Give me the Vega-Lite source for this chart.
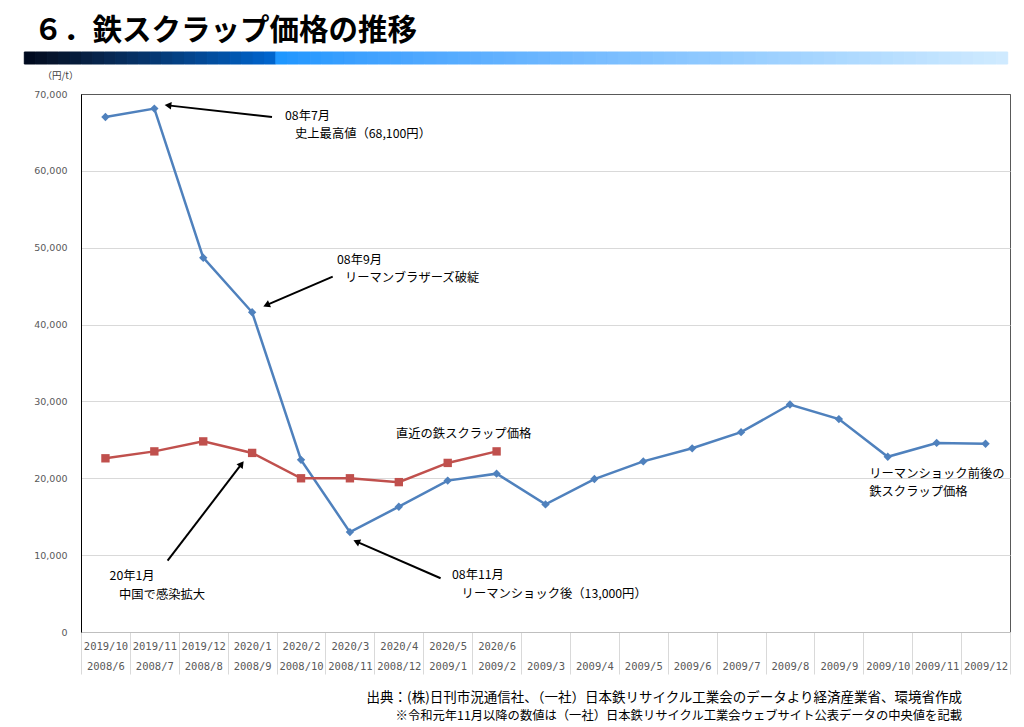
{
  "$schema": "https://vega.github.io/schema/vega-lite/v6.json",
  "background": "white",
  "padding": {"left": 23, "top": 16, "right": 0, "bottom": 0},
  "spacing": 4,
  "config": {
    "font": "Noto Sans CJK JP",
    "view": {"stroke": null}
  },
  "title": {
    "text": "６．鉄スクラップ価格の推移",
    "anchor": "start",
    "font": "Noto Sans CJK JP",
    "fontSize": 29.5,
    "fontWeight": "bold",
    "color": "#000000",
    "dx": 10,
    "offset": 5
  },
  "vconcat": [
    {
      "width": 929,
      "height": 12,
      "data": {
        "values": [0, 1, 2, 3, 4, 5, 6, 7, 8, 9, 10, 11, 12, 13, 14, 15, 16, 17, 18, 19, 20, 21,
                   22, 23, 24, 25, 26, 27, 28, 29, 30, 31, 32, 33, 34, 35, 36, 37, 38, 39, 40, 41, 42, 43,
                   44, 45, 46, 47, 48, 49, 50, 51, 52, 53, 54, 55, 56, 57, 58, 59, 60, 61, 62, 63, 64,
                   65, 66, 67, 68, 69, 70, 71, 72, 73, 74, 75, 76, 77, 78, 79, 80, 81, 82, 83, 84, 85]
      },
      "mark": {"type": "rect", "strokeWidth": 1, "clip": false},
      "encoding": {
        "x": {
          "field": "data",
          "type": "ordinal",
          "sort": null,
          "scale": {"type": "band", "paddingInner": 0, "paddingOuter": 0, "range": [-56.7, 926.7]},
          "axis": null
        },
        "color": {
          "field": "data",
          "type": "quantitative",
          "scale": {"domain": [0, 21, 22, 85], "range": ["#000a1f", "#0064cc", "#1f97ff", "#cfeaff"]},
          "legend": null
        },
        "stroke": {
          "field": "data",
          "type": "quantitative",
          "scale": {"domain": [0, 21, 22, 85], "range": ["#000a1f", "#0064cc", "#1f97ff", "#cfeaff"]},
          "legend": null
        }
      }
    },
    {
      "width": 929,
      "height": 538,
      "view": {"stroke": "#595959"},
      "title": {
        "text": "出典：(株)日刊市況通信社、（一社）日本鉄リサイクル工業会のデータより経済産業省、環境省作成",
        "subtitle": "※令和元年11月以降の数値は（一社）日本鉄リサイクル工業会ウェブサイト公表データの中央値を記載",
        "orient": "bottom",
        "anchor": "end",
        "frame": "group",
        "dx": -48,
        "offset": 16,
        "font": "Noto Sans CJK JP",
        "fontSize": 13.5,
        "fontWeight": "normal",
        "color": "#000000",
        "subtitleFont": "Noto Sans CJK JP",
        "subtitleFontSize": 12.3,
        "subtitleColor": "#000000",
        "subtitlePadding": 6
      },
      "encoding": {
        "y": {
          "field": "price",
          "type": "quantitative",
          "scale": {"domain": [0, 70000], "nice": false, "zero": true},
          "axis": {
            "values": [0, 10000, 20000, 30000, 40000, 50000, 60000, 70000],
            "format": ",.0f",
            "grid": true,
            "gridColor": {"condition": {"test": "datum.value == 70000", "value": "#595959"}, "value": "#d9d9d9"},
            "ticks": false,
            "domain": true,
            "domainColor": "#000000",
            "labelPadding": 14,
            "labelFont": "DejaVu Sans",
            "labelFontSize": 9.5,
            "labelColor": "#595959",
            "minExtent": 57,
            "title": "（円/t）",
            "titleAngle": 0,
            "titleX": -21,
            "titleY": -19,
            "titleAlign": "center",
            "titleBaseline": "middle",
            "titleFont": "Noto Sans CJK JP",
            "titleFontSize": 9.5,
            "titleFontWeight": "normal",
            "titleColor": "#404040"
          }
        }
      },
      "layer": [
        {
          "data": {
            "values": [
              {"month_2008": "2008/6", "month_2019": "2019/10", "lehman_shock": 67000, "recent": 22600},
              {"month_2008": "2008/7", "month_2019": "2019/11", "lehman_shock": 68100, "recent": 23500},
              {"month_2008": "2008/8", "month_2019": "2019/12", "lehman_shock": 48700, "recent": 24800},
              {"month_2008": "2008/9", "month_2019": "2020/1", "lehman_shock": 41600, "recent": 23300},
              {"month_2008": "2008/10", "month_2019": "2020/2", "lehman_shock": 22400, "recent": 20000},
              {"month_2008": "2008/11", "month_2019": "2020/3", "lehman_shock": 13000, "recent": 20000},
              {"month_2008": "2008/12", "month_2019": "2020/4", "lehman_shock": 16300, "recent": 19500},
              {"month_2008": "2009/1", "month_2019": "2020/5", "lehman_shock": 19700, "recent": 22000},
              {"month_2008": "2009/2", "month_2019": "2020/6", "lehman_shock": 20600, "recent": 23500},
              {"month_2008": "2009/3", "month_2019": "", "lehman_shock": 16600, "recent": null},
              {"month_2008": "2009/4", "month_2019": "", "lehman_shock": 19900, "recent": null},
              {"month_2008": "2009/5", "month_2019": "", "lehman_shock": 22200, "recent": null},
              {"month_2008": "2009/6", "month_2019": "", "lehman_shock": 23900, "recent": null},
              {"month_2008": "2009/7", "month_2019": "", "lehman_shock": 26000, "recent": null},
              {"month_2008": "2009/8", "month_2019": "", "lehman_shock": 29600, "recent": null},
              {"month_2008": "2009/9", "month_2019": "", "lehman_shock": 27700, "recent": null},
              {"month_2008": "2009/10", "month_2019": "", "lehman_shock": 22800, "recent": null},
              {"month_2008": "2009/11", "month_2019": "", "lehman_shock": 24600, "recent": null},
              {"month_2008": "2009/12", "month_2019": "", "lehman_shock": 24500, "recent": null}
            ]
          },
          "transform": [
            {"calculate": "datum.month_2019 + '|' + datum.month_2008", "as": "slot"},
            {"fold": ["lehman_shock", "recent"], "as": ["series", "price"]},
            {"filter": "isValid(datum.price)"}
          ],
          "encoding": {
            "x": {
              "field": "slot",
              "type": "nominal",
              "sort": null,
              "bandPosition": 0.5,
              "scale": {"type": "band", "paddingInner": 0, "paddingOuter": 0},
              "axis": {
                "title": null,
                "labelExpr": "isValid(datum.value) ? split(datum.value, '|') : ''",
                "labelAngle": 0,
                "labelOverlap": false,
                "labelFont": "DejaVu Sans Mono",
                "labelFontSize": 10.5,
                "labelColor": "#595959",
                "labelLineHeight": 20,
                "labelBaseline": "top",
                "labelPadding": -33,
                "ticks": true,
                "tickBand": "extent",
                "tickSize": 42,
                "tickColor": "#d9d9d9",
                "domainColor": "#bfbfbf",
                "grid": false
              }
            },
            "color": {
              "field": "series",
              "type": "nominal",
              "scale": {"domain": ["lehman_shock", "recent"], "range": ["#4f81bd", "#c0504d"]},
              "legend": null
            },
            "shape": {
              "field": "series",
              "type": "nominal",
              "scale": {"domain": ["lehman_shock", "recent"], "range": ["diamond", "square"]},
              "legend": null
            }
          },
          "layer": [
            {"mark": {"type": "line", "strokeWidth": 2.5}},
            {"mark": {"type": "point", "filled": true, "opacity": 1, "size": 70}}
          ]
        },
        {
          "data": {
            "values": [
              {"idx": 3.672, "price": 67140, "note": "08年7月"},
              {"idx": 3.877, "price": 64860, "note": "史上最高値（68,100円）"},
              {"idx": 4.736, "price": 48380, "note": "08年9月"},
              {"idx": 4.899, "price": 46030, "note": "リーマンブラザーズ破綻"},
              {"idx": 5.942, "price": 25760, "note": "直近の鉄スクラップ価格"},
              {"idx": 0.085, "price": 7270, "note": "20年1月"},
              {"idx": 0.277, "price": 4830, "note": "中国で感染拡大"},
              {"idx": 7.088, "price": 7400, "note": "08年11月"},
              {"idx": 7.284, "price": 4960, "note": "リーマンショック後（13,000円）"},
              {"idx": 15.622, "price": 20500, "note": "リーマンショック前後の"},
              {"idx": 15.622, "price": 18180, "note": "鉄スクラップ価格"}
            ]
          },
          "mark": {"type": "text", "align": "left", "baseline": "middle", "font": "Noto Sans CJK JP", "fontSize": 12.3, "color": "#000000"},
          "encoding": {
            "x": {"field": "idx", "type": "quantitative", "scale": {"domain": [-0.5, 18.5], "nice": false, "zero": false}, "axis": null},
            "text": {"field": "note", "type": "nominal"}
          }
        },
        {
          "data": {
            "values": [
              {"idx": 3.406, "price": 67010, "idx2": 1.279, "price2": 68520},
              {"idx": 4.648, "price": 46230, "idx2": 3.292, "price2": 42530},
              {"idx": 1.271, "price": 9280, "idx2": 2.785, "price2": 21870},
              {"idx": 6.855, "price": 6990, "idx2": 5.135, "price2": 11760}
            ]
          },
          "transform": [
            {"calculate": "atan2(-(datum.price2 - datum.price) * 538 / 70000, (datum.idx2 - datum.idx) * 929 / 19) * 180 / PI", "as": "heading"}
          ],
          "encoding": {
            "x": {"field": "idx", "type": "quantitative", "scale": {"domain": [-0.5, 18.5], "nice": false, "zero": false}, "axis": null}
          },
          "layer": [
            {
              "mark": {"type": "rule", "color": "#000000", "strokeWidth": 2},
              "encoding": {
                "x2": {"field": "idx2"},
                "y2": {"field": "price2"}
              }
            },
            {
              "mark": {"type": "point", "shape": "triangle-right", "filled": true, "opacity": 1, "color": "#000000", "size": 60},
              "encoding": {
                "x": {"field": "idx2", "type": "quantitative", "scale": {"domain": [-0.5, 18.5], "nice": false, "zero": false}, "axis": null},
                "y": {"field": "price2", "type": "quantitative"},
                "angle": {"field": "heading", "type": "quantitative", "scale": null}
              }
            }
          ]
        }
      ],
      "resolve": {"scale": {"x": "independent"}}
    }
  ]
}
